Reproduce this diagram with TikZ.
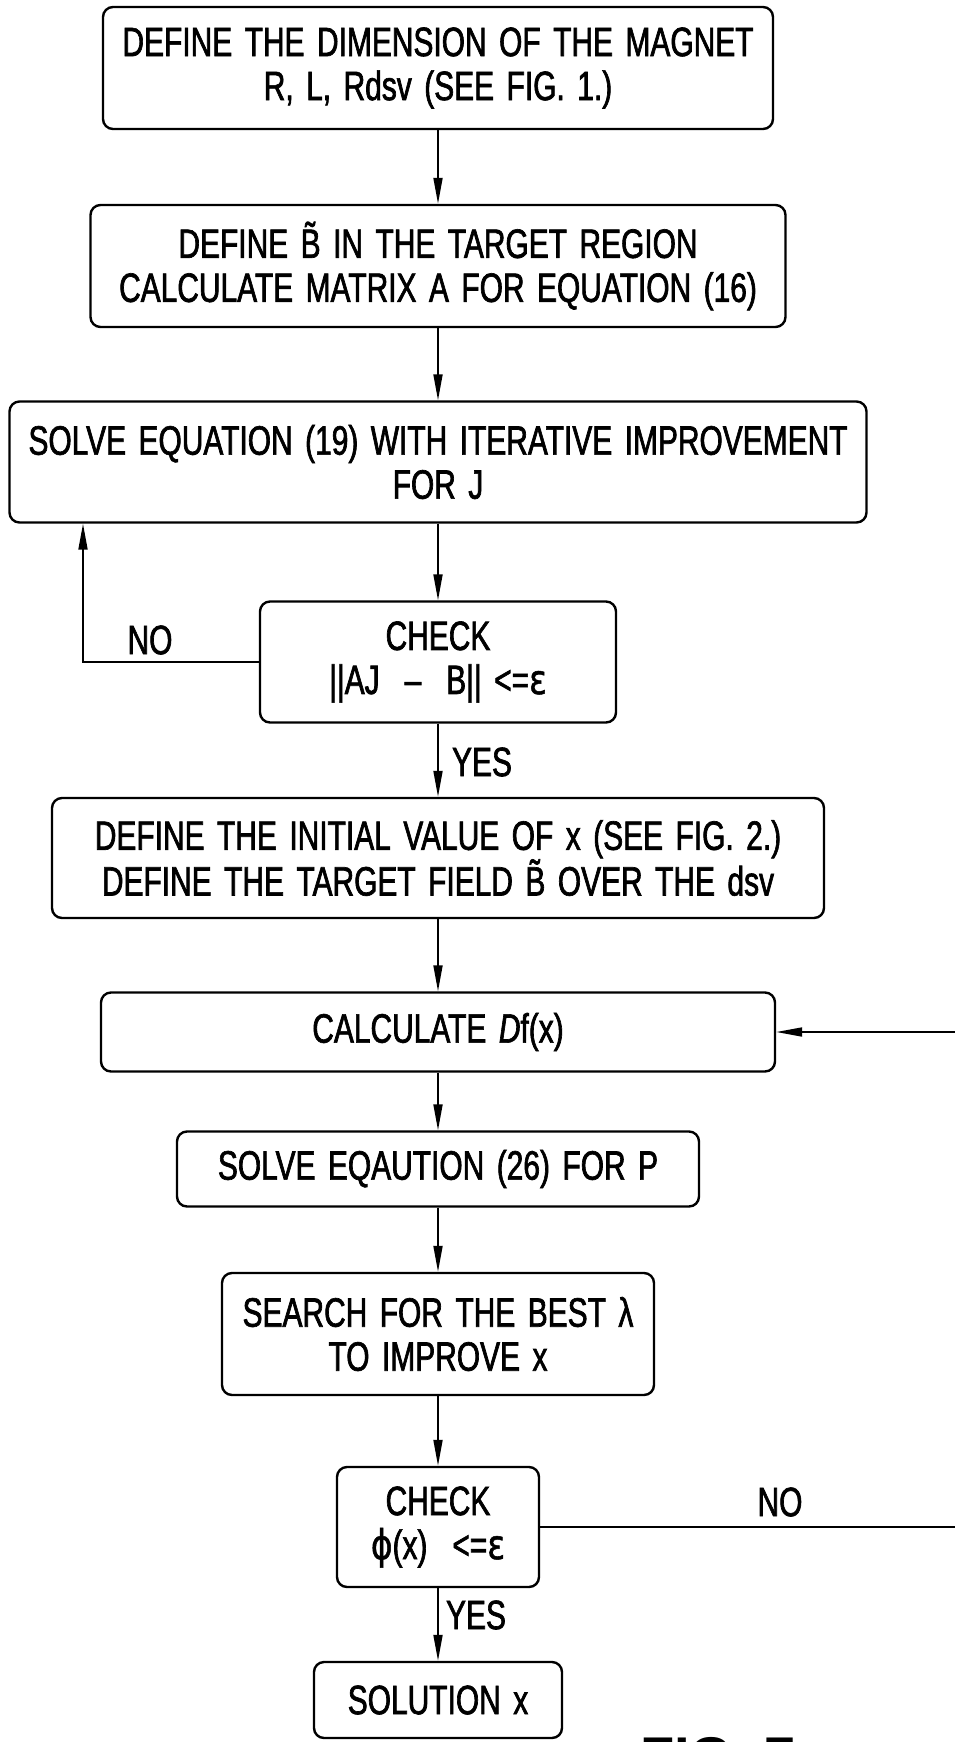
\documentclass[tikz,border=0pt]{standalone}
\usepackage{fontspec}
\setmainfont{Liberation Sans}[FakeStretch=0.73, FakeBold=1.6, WordSpace=1.5]
\newfontfamily\figfont{Liberation Sans}
\newfontfamily\grkfont{DejaVu Sans}[FakeStretch=0.8, FakeBold=1.2]
\usetikzlibrary{arrows.meta}

\begin{document}
\begin{tikzpicture}[
    x=1pt, y=-1pt,
    box/.style={draw, line width=2.4pt, rounded corners=10pt, align=center, inner sep=0pt,
        font=\fontsize{41}{44}\selectfont},
    flow/.style={draw, line width=1.8pt, -{Triangle[length=26pt, width=9pt]}},
    lbl/.style={inner sep=0pt, font=\fontsize{41}{44}\selectfont}
]
    % Page size
    \useasboundingbox (0,0) rectangle (955,1742);
    \def\colX{438}

    % Boxes
    \node[box, minimum width=670pt, minimum height=122pt] (magnet) at (\colX, 68)
        {DEFINE THE DIMENSION OF THE MAGNET\\R, L, Rdsv (SEE FIG. 1.)};
    \node[box, minimum width=695pt, minimum height=122pt] (targetB) at (\colX, 266)
        {DEFINE \~B IN THE TARGET REGION\\CALCULATE MATRIX A FOR EQUATION (16)};
    \node[box, minimum width=857pt, minimum height=121pt] (solveJ) at (\colX, 462)
        {SOLVE EQUATION (19) WITH ITERATIVE IMPROVEMENT\\FOR J};
    \node[box, minimum width=356pt, minimum height=121pt] (checkJ) at (\colX, 662)
        {CHECK\\||AJ \ – \ B|| <={\grkfont ε}};
    \node[box, minimum width=772pt, minimum height=120pt] (initx) at (\colX, 858)
        {DEFINE THE INITIAL VALUE OF x (SEE FIG. 2.)\\DEFINE THE TARGET FIELD \~B OVER THE dsv};
    \node[box, minimum width=674pt, minimum height=79pt] (calcDf) at (\colX, 1032)
        {CALCULATE {\itshape D}f(x)};
    \node[box, minimum width=522pt, minimum height=75pt] (solveP) at (\colX, 1169)
        {SOLVE EQAUTION (26) FOR P};
    \node[box, minimum width=432pt, minimum height=122pt] (searchlam) at (\colX, 1334)
        {SEARCH FOR THE BEST λ\\TO IMPROVE x};
    \node[box, minimum width=202pt, minimum height=120pt] (checkphi) at (\colX, 1527)
        {CHECK\\{\grkfont ϕ}(x) \ <={\grkfont ε}};
    \node[box, minimum width=248pt, minimum height=76pt] (solution) at (\colX, 1700)
        {SOLUTION x};

    % Main flow
    \draw[flow] (magnet) -- (targetB);
    \draw[flow] (targetB) -- (solveJ);
    \draw[flow] (solveJ) -- (checkJ);
    \draw[flow] (checkJ) -- (initx);
    \draw[flow] (initx) -- (calcDf);
    \draw[flow] (calcDf) -- (solveP);
    \draw[flow] (solveP) -- (searchlam);
    \draw[flow] (searchlam) -- (checkphi);
    \draw[flow] (checkphi) -- (solution);

    % Loop back for J
    \coordinate (noJ) at (83, 662);
    \draw[flow] (checkJ.west) -- (noJ) -- (noJ |- solveJ.south);

    % Loop back for x (runs off the page edge)
    \coordinate (noX) at (985, 1527);
    \draw[flow] (checkphi.east) -- (noX) -- (noX |- calcDf.east) -- (calcDf.east);

    % Labels
    \node[lbl] (noJlbl) at (150, 640) {NO};
    \node[lbl] (yesJlbl) at (482, 762) {YES};
    \node[lbl] (noXlbl) at (780, 1502) {NO};
    \node[lbl] (yesXlbl) at (476, 1615) {YES};

    \node[anchor=north west, inner sep=0pt, font=\figfont\bfseries\fontsize{56}{60}\selectfont]
        (figlbl) at (640, 1737) {FIG. 7};
\end{tikzpicture}
\end{document}
